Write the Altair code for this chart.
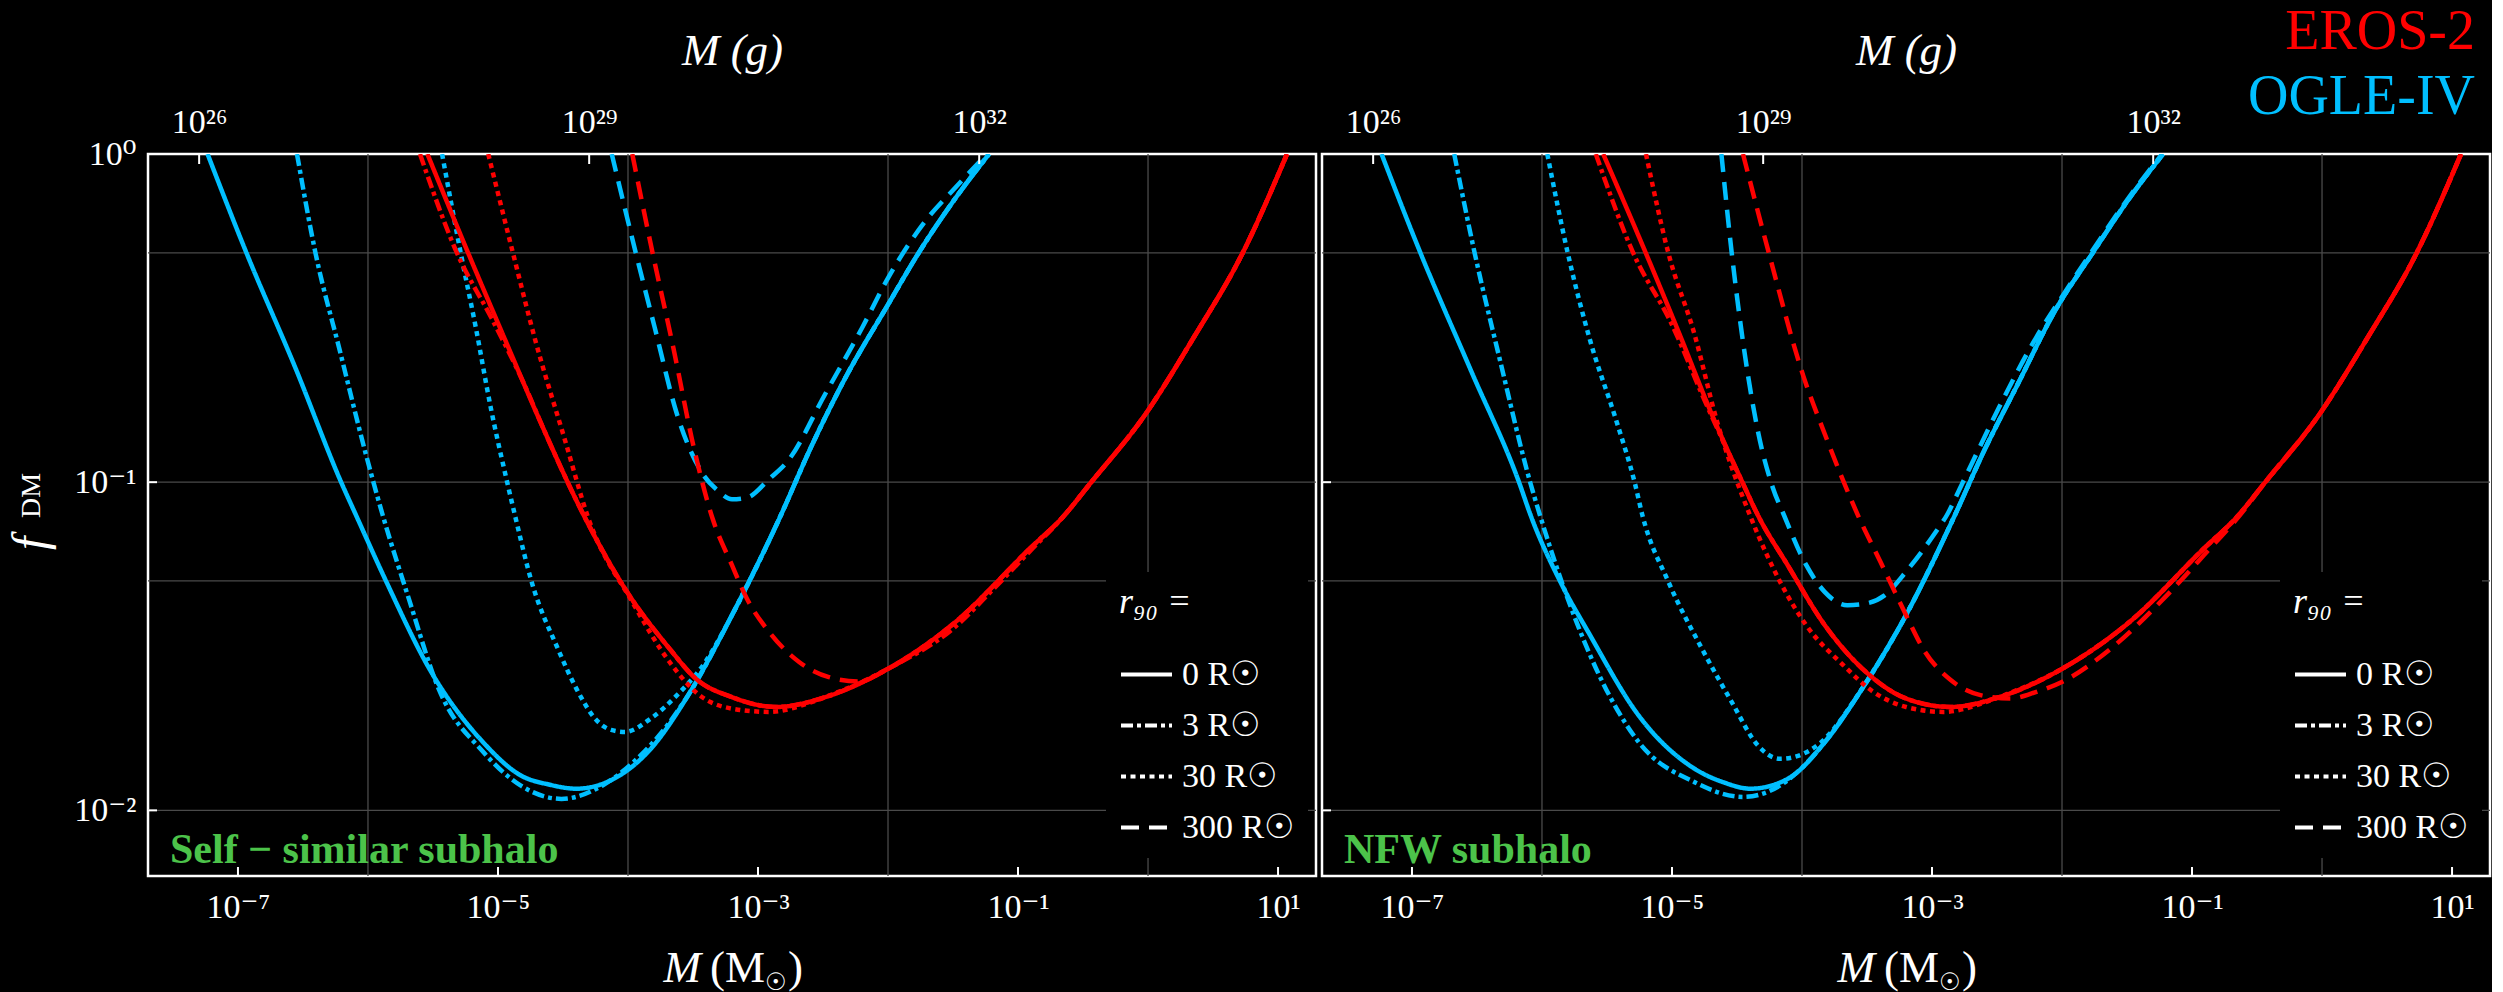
import math
import altair as alt
import pandas as pd

FONT = "Liberation Serif, DejaVu Serif, serif"
RED = "#FF0000"
CYAN = "#00BFFF"
GREEN = "#4CC34A"
GRID = "#4a4a4a"

MSUN_G = 1.989e33
W, H = 1168, 722
XMIN, XMAX = 10 ** -7.692, 10 ** 1.292
YMIN, YMAX = 10 ** -2.2, 1.0

EXPERIMENTS = ["EROS-2", "OGLE-IV"]
R90 = ["0 R☉", "3 R☉", "30 R☉", "300 R☉"]
DASHES = [[1, 0], [12, 4, 4, 4], [5, 4.5], [18, 10]]

X_TICKS = [1e-7, 1e-5, 1e-3, 1e-1, 1e1]
X_TICK_LABELS = ["10⁻⁷", "10⁻⁵", "10⁻³", "10⁻¹", "10¹"]
Y_TICKS = [1.0, 0.1, 0.01]
Y_TICK_LABELS = ["10⁰", "10⁻¹", "10⁻²"]
G_TICKS = [1e26, 1e29, 1e32]
G_TICK_LABELS = ["10²⁶", "10²⁹", "10³²"]
GRID_X = [1e-6, 1e-4, 1e-2, 1.0]
GRID_Y = [0.5, 0.1, 0.05, 0.01]

# ---- Self-similar subhalo (log10 M [Msun], log10 f_DM) ----
ss_ogle_r0_lm = [-7.234, -6.933, -6.560, -6.202, -6.088, -5.858, -5.514, -5.113, -4.827, -4.600, -4.397, -4.110, -3.824, -3.537, -3.200, -2.828, -2.600, -2.340, -1.997, -1.767, -1.500, -1.223]
ss_ogle_r0_lf = [0.000, -0.303, -0.650, -1.004, -1.104, -1.304, -1.578, -1.793, -1.893, -1.922, -1.934, -1.904, -1.812, -1.649, -1.405, -1.104, -0.900, -0.691, -0.457, -0.303, -0.145, 0.000]
ss_ogle_r3_lm = [-6.546, -6.403, -6.216, -6.016, -5.887, -5.686, -5.457, -5.113, -4.827, -4.512, -4.196, -3.950, -3.700, -3.537, -3.200, -2.828, -2.600, -2.340, -1.997, -1.767, -1.500, -1.223]
ss_ogle_r3_lf = [0.000, -0.303, -0.600, -0.915, -1.100, -1.355, -1.629, -1.822, -1.924, -1.965, -1.924, -1.850, -1.742, -1.649, -1.405, -1.104, -0.900, -0.691, -0.457, -0.303, -0.145, 0.000]
ss_ogle_r30_lm = [-5.430, -5.286, -5.171, -5.056, -4.927, -4.870, -4.741, -4.540, -4.397, -4.254, -4.130, -4.024, -3.824, -3.623, -3.400, -3.200, -2.828, -2.600, -2.340, -1.997, -1.767, -1.500, -1.223]
ss_ogle_r30_lf = [0.000, -0.303, -0.528, -0.772, -1.004, -1.100, -1.304, -1.507, -1.629, -1.720, -1.755, -1.761, -1.720, -1.649, -1.545, -1.405, -1.104, -0.900, -0.691, -0.457, -0.303, -0.145, 0.000]
ss_ogle_r300_lm = [-4.125, -3.939, -3.795, -3.623, -3.423, -3.308, -3.200, -3.085, -2.913, -2.770, -2.484, -2.197, -1.997, -1.710, -1.481, -1.238]
ss_ogle_r300_lf = [0.000, -0.303, -0.528, -0.793, -0.976, -1.026, -1.052, -1.047, -0.990, -0.935, -0.732, -0.528, -0.376, -0.203, -0.102, 0.000]

ss_eros_r0_lm = [-5.543, -5.228, -4.942, -4.655, -4.354, -4.024, -3.681, -3.480, -3.200, -2.856, -2.484, -1.997, -1.481, -0.908, -0.650, -0.449, -0.020, 0.350, 0.726, 1.069]
ss_eros_r0_lf = [0.000, -0.303, -0.569, -0.833, -1.090, -1.324, -1.507, -1.598, -1.655, -1.685, -1.655, -1.568, -1.426, -1.202, -1.104, -1.006, -0.793, -0.560, -0.303, 0.000]
ss_eros_r3_lm = [-5.600, -5.314, -5.050, -4.800, -4.655, -4.354, -4.024, -3.681, -3.480, -3.200, -2.856, -2.484, -1.997, -1.481, -1.200, -0.908, -0.650, -0.449, -0.020, 0.350, 0.726, 1.069]
ss_eros_r3_lf = [0.000, -0.303, -0.500, -0.700, -0.833, -1.090, -1.324, -1.507, -1.598, -1.655, -1.685, -1.655, -1.568, -1.440, -1.330, -1.210, -1.104, -1.006, -0.793, -0.560, -0.303, 0.000]
ss_eros_r30_lm = [-5.075, -4.884, -4.712, -4.483, -4.310, -3.967, -3.680, -3.450, -3.200, -2.913, -2.600, -2.484, -1.997, -1.481, -0.908, -0.650, -0.449, -0.020, 0.350, 0.726, 1.069]
ss_eros_r30_lf = [0.000, -0.303, -0.569, -0.874, -1.104, -1.365, -1.548, -1.649, -1.690, -1.700, -1.672, -1.655, -1.568, -1.426, -1.202, -1.104, -1.006, -0.793, -0.560, -0.303, 0.000]
ss_eros_r300_lm = [-3.967, -3.810, -3.652, -3.494, -3.350, -3.200, -3.085, -2.913, -2.684, -2.455, -2.226, -1.997, -1.481, -0.908, -0.650, -0.449, -0.020, 0.350, 0.726, 1.069]
ss_eros_r300_lf = [0.000, -0.303, -0.589, -0.894, -1.110, -1.253, -1.355, -1.457, -1.548, -1.594, -1.607, -1.568, -1.426, -1.202, -1.104, -1.006, -0.793, -0.560, -0.303, 0.000]

# ---- NFW subhalo ----
nfw_ogle_r0_lm = [-7.234, -6.933, -6.546, -6.173, -6.088, -5.858, -5.629, -5.256, -4.827, -4.600, -4.397, -4.110, -3.824, -3.537, -3.200, -2.828, -2.600, -2.340, -2.054, -1.767, -1.500, -1.223]
nfw_ogle_r0_lf = [0.000, -0.303, -0.660, -1.004, -1.100, -1.304, -1.467, -1.711, -1.873, -1.915, -1.934, -1.904, -1.792, -1.629, -1.405, -1.104, -0.905, -0.701, -0.478, -0.303, -0.145, 0.000]
nfw_ogle_r3_lm = [-6.675, -6.517, -6.322, -6.088, -6.016, -5.830, -5.629, -5.256, -4.827, -4.454, -4.168, -3.950, -3.824, -3.537, -3.200, -2.828, -2.600, -2.340, -2.054, -1.767, -1.500, -1.223]
nfw_ogle_r3_lf = [0.000, -0.303, -0.630, -1.004, -1.100, -1.324, -1.528, -1.792, -1.914, -1.959, -1.924, -1.850, -1.792, -1.629, -1.405, -1.104, -0.905, -0.701, -0.478, -0.303, -0.145, 0.000]
nfw_ogle_r30_lm = [-5.959, -5.801, -5.629, -5.428, -5.285, -5.228, -5.027, -4.770, -4.540, -4.340, -4.168, -4.024, -3.852, -3.537, -3.200, -2.828, -2.600, -2.340, -2.054, -1.767, -1.500, -1.223]
nfw_ogle_r30_lf = [0.000, -0.303, -0.569, -0.813, -1.004, -1.100, -1.304, -1.507, -1.670, -1.802, -1.843, -1.833, -1.792, -1.629, -1.405, -1.104, -0.905, -0.701, -0.478, -0.303, -0.145, 0.000]
nfw_ogle_r300_lm = [-4.620, -4.540, -4.440, -4.340, -4.225, -4.139, -3.967, -3.824, -3.652, -3.509, -3.365, -3.200, -2.970, -2.885, -2.770, -2.484, -2.200, -2.000, -1.767, -1.500, -1.230]
nfw_ogle_r300_lf = [0.000, -0.303, -0.610, -0.843, -1.016, -1.100, -1.253, -1.335, -1.375, -1.370, -1.345, -1.273, -1.151, -1.100, -1.006, -0.772, -0.560, -0.435, -0.295, -0.140, 0.000]

nfw_eros_r0_lm = [-5.529, -5.200, -4.942, -4.683, -4.454, -4.340, -4.110, -3.824, -3.480, -3.200, -2.856, -2.484, -1.997, -1.481, -0.908, -0.650, -0.449, -0.020, 0.350, 0.726, 1.069]
nfw_eros_r0_lf = [0.000, -0.303, -0.549, -0.803, -1.004, -1.100, -1.253, -1.436, -1.588, -1.659, -1.685, -1.655, -1.568, -1.426, -1.202, -1.104, -1.006, -0.793, -0.560, -0.303, 0.000]
nfw_eros_r3_lm = [-5.586, -5.300, -5.000, -4.750, -4.454, -4.340, -4.110, -3.824, -3.480, -3.200, -2.856, -2.484, -1.997, -1.481, -0.908, -0.650, -0.449, -0.020, 0.350, 0.726, 1.069]
nfw_eros_r3_lf = [0.000, -0.300, -0.520, -0.750, -1.004, -1.100, -1.253, -1.436, -1.588, -1.659, -1.685, -1.655, -1.568, -1.426, -1.202, -1.104, -1.006, -0.793, -0.560, -0.303, 0.000]
nfw_eros_r30_lm = [-5.200, -5.027, -4.827, -4.655, -4.397, -4.168, -3.967, -3.681, -3.451, -3.200, -2.913, -2.600, -2.484, -1.997, -1.481, -0.908, -0.650, -0.449, -0.020, 0.350, 0.726, 1.069]
nfw_eros_r30_lf = [0.000, -0.303, -0.549, -0.813, -1.104, -1.304, -1.436, -1.558, -1.639, -1.685, -1.700, -1.672, -1.655, -1.568, -1.426, -1.202, -1.104, -1.006, -0.793, -0.560, -0.303, 0.000]
nfw_eros_r300_lm = [-4.454, -4.254, -3.990, -3.824, -3.566, -3.394, -3.279, -3.200, -3.057, -2.856, -2.627, -2.398, -2.197, -1.997, -1.624, -1.194, -0.908, -0.600, -0.449, -0.020, 0.350, 0.726, 1.069]
nfw_eros_r300_lf = [0.000, -0.303, -0.676, -0.854, -1.104, -1.245, -1.340, -1.405, -1.515, -1.603, -1.649, -1.659, -1.639, -1.608, -1.507, -1.345, -1.222, -1.085, -1.006, -0.793, -0.560, -0.303, 0.000]

SS_CURVES = [
    ("OGLE-IV", R90[0], ss_ogle_r0_lm, ss_ogle_r0_lf),
    ("OGLE-IV", R90[1], ss_ogle_r3_lm, ss_ogle_r3_lf),
    ("OGLE-IV", R90[2], ss_ogle_r30_lm, ss_ogle_r30_lf),
    ("OGLE-IV", R90[3], ss_ogle_r300_lm, ss_ogle_r300_lf),
    ("EROS-2", R90[0], ss_eros_r0_lm, ss_eros_r0_lf),
    ("EROS-2", R90[1], ss_eros_r3_lm, ss_eros_r3_lf),
    ("EROS-2", R90[2], ss_eros_r30_lm, ss_eros_r30_lf),
    ("EROS-2", R90[3], ss_eros_r300_lm, ss_eros_r300_lf),
]
NFW_CURVES = [
    ("OGLE-IV", R90[0], nfw_ogle_r0_lm, nfw_ogle_r0_lf),
    ("OGLE-IV", R90[1], nfw_ogle_r3_lm, nfw_ogle_r3_lf),
    ("OGLE-IV", R90[2], nfw_ogle_r30_lm, nfw_ogle_r30_lf),
    ("OGLE-IV", R90[3], nfw_ogle_r300_lm, nfw_ogle_r300_lf),
    ("EROS-2", R90[0], nfw_eros_r0_lm, nfw_eros_r0_lf),
    ("EROS-2", R90[1], nfw_eros_r3_lm, nfw_eros_r3_lf),
    ("EROS-2", R90[2], nfw_eros_r30_lm, nfw_eros_r30_lf),
    ("EROS-2", R90[3], nfw_eros_r300_lm, nfw_eros_r300_lf),
]


def curves_df(curves):
    rows = []
    for exp, r90, lm, lf in curves:
        for i, (a, b) in enumerate(zip(lm, lf)):
            rows.append({"exp": exp, "r90": r90, "curve": exp + r90, "i": i,
                         "M": 10 ** a, "f": 10 ** b})
    return pd.DataFrame(rows)


def label_expr(values, labels):
    parts = [f"abs(log(datum.value)/LN10 - ({math.log10(v):.4f})) < 0.01 ? '{lab}'"
             for v, lab in zip(values, labels)]
    return " : ".join(parts) + " : ''"


def text_layer(txt, x, y, size, align="left", color="white", style="normal",
               weight="normal", angle=0, font=FONT):
    return alt.Chart(pd.DataFrame({"t": [txt]})).mark_text(
        align=align, baseline="alphabetic", font=font, fontSize=size,
        fontStyle=style, fontWeight=weight, color=color, angle=angle
    ).encode(text="t:N", x=alt.value(x), y=alt.value(y))


def panel(curves, label, first):
    xs = alt.Scale(type="log", domain=[XMIN, XMAX])
    ys = alt.Scale(type="log", domain=[YMIN, YMAX])
    gs = alt.Scale(type="log", domain=[XMIN * MSUN_G, XMAX * MSUN_G])

    yaxis = alt.Axis(values=Y_TICKS, labelExpr=label_expr(Y_TICKS, Y_TICK_LABELS),
                     labelPadding=12, title=None) if first else None

    grid_v = alt.Chart(pd.DataFrame({"M": GRID_X})).mark_rule(
        color=GRID, strokeWidth=1.3).encode(x=alt.X("M:Q", scale=xs, axis=None))
    grid_h = alt.Chart(pd.DataFrame({"f": GRID_Y})).mark_rule(
        color=GRID, strokeWidth=1.3).encode(y=alt.Y("f:Q", scale=ys, axis=yaxis))

    lines = alt.Chart(curves_df(curves)).mark_line(
        strokeWidth=4.5, clip=True, interpolate="monotone").encode(
        x=alt.X("M:Q", scale=xs,
                axis=alt.Axis(orient="bottom", values=X_TICKS,
                              labelExpr=label_expr(X_TICKS, X_TICK_LABELS),
                              labelPadding=14, title=None)),
        y=alt.Y("f:Q", scale=ys, axis=yaxis),
        color=alt.Color("exp:N", scale=alt.Scale(domain=EXPERIMENTS, range=[RED, CYAN]),
                        legend=None),
        strokeDash=alt.StrokeDash(
            "r90:N", scale=alt.Scale(domain=R90, range=DASHES),
            legend=alt.Legend(
                orient="none", legendX=958, legendY=418, title="r₉₀ =",
                titleFont=FONT, titleFontSize=36, titleFontStyle="italic",
                titleFontWeight="normal", titleColor="white", titlePadding=26,
                labelFont=FONT, labelFontSize=34, labelColor="white", labelOffset=8,
                symbolType="stroke", symbolSize=2600, symbolStrokeWidth=4,
                symbolStrokeColor="white", rowPadding=6, fillColor="black",
                padding=13)),
        order="i:Q",
    )

    xt = alt.Chart(pd.DataFrame({"M": X_TICKS})).mark_rule(color="white", strokeWidth=2).encode(
        x=alt.X("M:Q", scale=xs, axis=None), y=alt.value(H), y2=alt.value(H - 9))
    yt = alt.Chart(pd.DataFrame({"f": Y_TICKS})).mark_rule(color="white", strokeWidth=2).encode(
        y=alt.Y("f:Q", scale=ys, axis=yaxis), x=alt.value(0), x2=alt.value(9))
    gt = alt.Chart(pd.DataFrame({"g": G_TICKS})).mark_rule(color="white", strokeWidth=2).encode(
        x=alt.X("g:Q", scale=gs,
                axis=alt.Axis(orient="top", values=G_TICKS,
                              labelExpr=label_expr(G_TICKS, G_TICK_LABELS),
                              labelPadding=15, title="M (g)", titleFontStyle="italic",
                              titlePadding=32)),
        y=alt.value(0), y2=alt.value(10))

    layers = [grid_v, grid_h, lines, xt, yt, gt,
              text_layer(label, 22, 709, 42, color=GREEN, weight="bold"),
              text_layer("M", 553, 828, 45, align="right", style="italic"),
              text_layer("(M", 562, 828, 45),
              text_layer("☉", 617, 836, 24, font="DejaVu Sans"),
              text_layer(")", 640, 828, 45)]
    if first:
        layers += [text_layer("f", -102, 396, 48, style="italic", angle=270),
                   text_layer("DM", -108, 364, 28, angle=270)]
    else:
        layers += [text_layer("EROS-2", 1153, -105, 56, align="right", color=RED),
                   text_layer("OGLE-IV", 1153, -40, 56, align="right", color=CYAN)]
    return alt.layer(*layers).resolve_scale(x="independent").properties(width=W, height=H)


left = panel(SS_CURVES, "Self − similar subhalo", True)
right = panel(NFW_CURVES, "NFW subhalo", False)

chart = alt.hconcat(left, right, spacing=6, bounds="flush").resolve_legend(
    strokeDash="independent"
).configure(
    background="black",
    padding={"left": 6, "top": 2, "right": 0, "bottom": 0},
).configure_view(
    stroke="white", strokeWidth=2.5
).configure_axis(
    labelFont=FONT, titleFont=FONT, labelColor="white", titleColor="white",
    labelFontSize=34, titleFontSize=45, titleFontWeight="normal",
    domain=False, ticks=False, tickSize=0, grid=False
)

chart.save("out.html", embed_options={"renderer": "svg", "actions": False})
